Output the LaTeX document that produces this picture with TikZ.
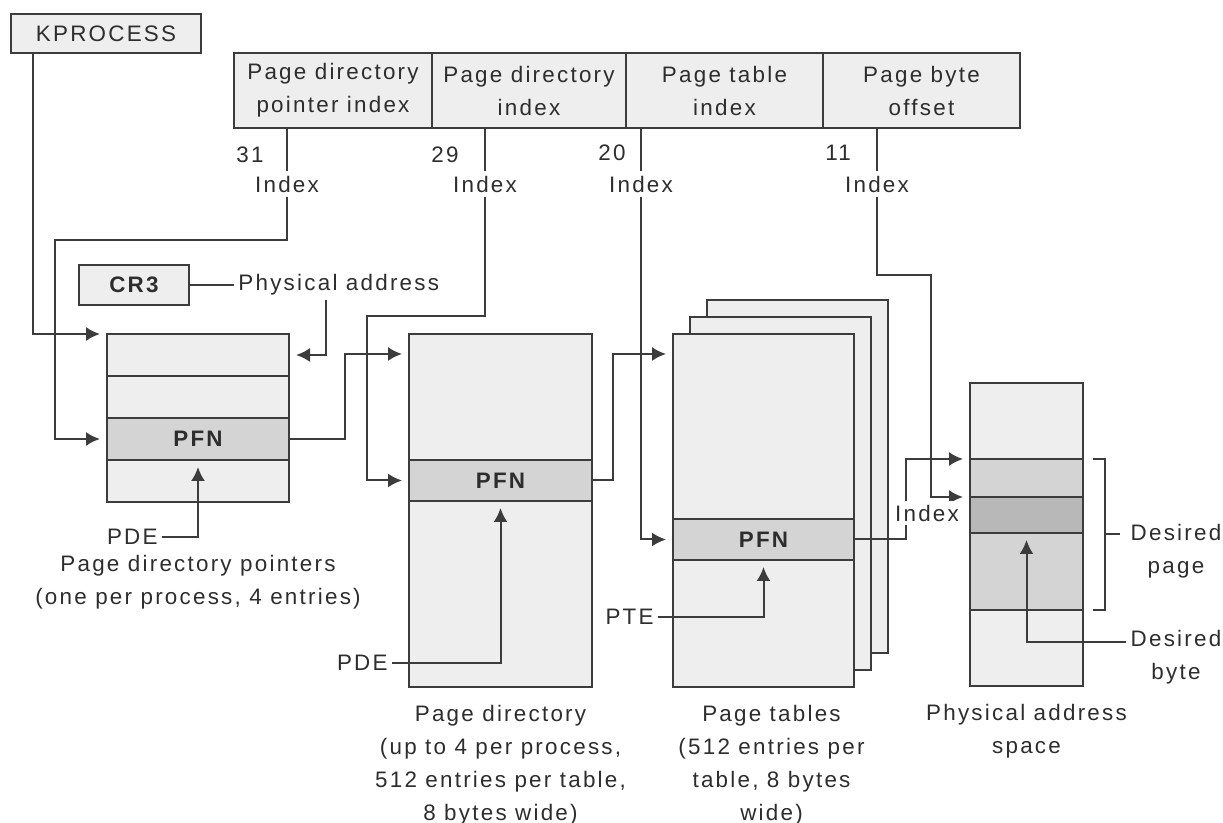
\documentclass[tikz,border=0pt]{standalone}
\usepackage{fontspec}
\setmainfont{Liberation Sans}[LetterSpace=10]
\usepackage{tikz}
\usetikzlibrary{arrows.meta, positioning}
\definecolor{linegray}{RGB}{60,60,60}
\definecolor{textgray}{RGB}{45,45,45}
\definecolor{cellfill}{RGB}{238,238,238}
\definecolor{pfnfill}{RGB}{212,212,212}
\definecolor{bytefill}{RGB}{184,184,184}
\newcommand{\diagfont}{\fontsize{11.2}{16.5}\selectfont}
\tikzset{
  cell/.style={rectangle, draw=linegray, fill=cellfill, line width=1pt,
    inner sep=0pt, outer sep=0pt, text=textgray, align=center},
  pfncell/.style={cell, fill=pfnfill, font=\diagfont\bfseries},
  tag/.style={inner sep=2pt, text=textgray, align=center},
  ptr/.style={-{Latex[length=7pt, width=7pt]}, line width=1pt,
    draw=linegray, shorten >=3.5pt},
  wire/.style={line width=1pt, draw=linegray}
}

\begin{document}
\begin{tikzpicture}[x=0.5pt, y=-0.5pt, font=\diagfont, node distance=0pt]
  \useasboundingbox (0,0) rectangle (1223,823);

  % virtual address
  \node[cell, minimum width=95pt, minimum height=19.5pt] (kp) at (106,33.5) {KPROCESS};
  \node[cell, minimum width=99pt, minimum height=37.5pt] (f1) at (333,90.5) {Page directory\\pointer index};
  \node[cell, minimum width=97pt, minimum height=37.5pt, right=of f1] (f2) {Page directory\\index};
  \node[cell, minimum width=98.5pt, minimum height=37.5pt, right=of f2] (f3) {Page table\\index};
  \node[cell, minimum width=98.5pt, minimum height=37.5pt, right=of f3] (f4) {Page byte\\offset};

  \node[tag] (n31) at (250,155) {31};
  \node[tag] (n29) at (445,155) {29};
  \node[tag] (n20) at (612,153) {20};
  \node[tag] (n11) at (838,153) {11};
  \node[tag] (idx31) at (287,184) {Index};
  \node[tag] (idx29) at (485,184) {Index};
  \node[tag] (idx20) at (641,184) {Index};
  \node[tag] (idx11) at (877,184) {Index};

  % page directory pointers
  \node[cell, minimum width=55pt, minimum height=20pt, font=\diagfont\bfseries] (cr3) at (134,285) {CR3};
  \node[tag, anchor=west] (pa) at (234,285) {Physical address};
  \node[cell, minimum width=91pt, minimum height=21pt] (pdpA) at (198,355) {};
  \node[cell, minimum width=91pt, minimum height=21pt, below=of pdpA] (pdpB) {};
  \node[pfncell, minimum width=91pt, minimum height=21pt, below=of pdpB] (pdpC) {PFN};
  \node[cell, minimum width=91pt, minimum height=21pt, below=of pdpC] (pdpD) {};
  \node[tag, anchor=east] (pde1) at (162,537) {PDE};
  \node[tag] (cap1) at (198,582) {Page directory pointers\\(one per process, 4 entries)};

  % page directory
  \node[cell, minimum width=91.5pt, minimum height=63pt] (pdA) at (500.5,397) {};
  \node[pfncell, minimum width=91.5pt, minimum height=20.5pt, below=of pdA] (pdPFN) {PFN};
  \node[cell, minimum width=91.5pt, minimum height=93pt, below=of pdPFN] (pdC) {};
  \node[tag, anchor=east] (pde2) at (392,663) {PDE};
  \node[tag, below=7pt of pdC] (cap2) {Page directory\\(up to 4 per process,\\512 entries per table,\\8 bytes wide)};

  % page tables
  \node[cell, minimum width=90.5pt, minimum height=176.5pt] (ptS3) at (797.5,476.5) {};
  \node[cell, minimum width=90.5pt, minimum height=176.5pt] (ptS2) at (780.5,493.5) {};
  \node[cell, minimum width=90.5pt, minimum height=92.5pt] (ptA) at (763.5,426.5) {};
  \node[pfncell, minimum width=90.5pt, minimum height=20.5pt, below=of ptA] (ptPFN) {PFN};
  \node[cell, minimum width=90.5pt, minimum height=63.5pt, below=of ptPFN] (ptC) {};
  \node[tag, anchor=east] (pte) at (658,617) {PTE};
  \node[tag, below=7pt of ptC, xshift=4pt] (cap3) {Page tables\\(512 entries per\\table, 8 bytes\\wide)};

  % physical memory
  \node[cell, minimum width=56.5pt, minimum height=38pt] (phA) at (1026.5,421) {};
  \node[cell, fill=pfnfill, minimum width=56.5pt, minimum height=19pt, below=of phA] (phB) {};
  \node[cell, fill=bytefill, minimum width=56.5pt, minimum height=18pt, below=of phB] (phC) {};
  \node[cell, fill=pfnfill, minimum width=56.5pt, minimum height=38.5pt, below=of phC] (phD) {};
  \node[cell, minimum width=56.5pt, minimum height=38pt, below=of phD] (phE) {};
  \node[tag] (dp) at (1176,551) {Desired\\page};
  \node[tag] (db) at (1176,657) {Desired\\byte};
  \node[tag, below=7pt of phE] (cap4) {Physical address\\space};

  % connectors
  \coordinate (kpDrop) at (33,0);
  \coordinate (paDrop) at (326,0);
  \coordinate (j31) at (55,240);
  \coordinate (j29) at (367,316);
  \coordinate (j11) at (931,275);
  \coordinate (k1) at (345,354);
  \coordinate (k2) at (613,354);
  \coordinate (k3) at (906,459);
  \coordinate (brk) at (1105,534.5);

  \draw[ptr] (kp.south -| kpDrop) |- (pdpA.north west);
  \draw[wire] (cr3.east) -- (pa.west);
  \draw[ptr] (pa.south -| paDrop) |- (pdpA.east);

  \draw[wire] (idx31 |- f1.south) -- (idx31.north);
  \draw[wire] (idx29 |- f2.south) -- (idx29.north);
  \draw[wire] (idx20 |- f3.south) -- (idx20.north);
  \draw[wire] (idx11 |- f4.south) -- (idx11.north);
  \draw[ptr] (idx31.south) |- (j31) |- (pdpC.west);
  \draw[ptr] (idx29.south) |- (j29) |- (pdPFN.west);
  \draw[ptr] (idx20.south) |- (ptPFN.west);
  \draw[ptr] (idx11.south) |- (j11) |- (phC.north west);

  \draw[ptr] (pdpC.east) -| (k1) -- (k1 -| pdA.west);
  \draw[ptr] (pdPFN.east) -| (k2) -- (k2 -| ptA.west);
  \draw[ptr] (ptPFN.east) -| (k3) -- (phB.north west);
  \node[tag, fill=white] (idxPh) at (927,513) {Index};

  \draw[ptr] (pde1.east) -| (pdpC.south);
  \draw[ptr] (pde2.east) -| (pdPFN.south);
  \draw[ptr] (pte.east) -| (ptPFN.south);
  \draw[ptr] ([yshift=7.5pt]db.west) -| (phC.south);

  \draw[wire] ([xshift=5pt]phB.north east) -| ([xshift=11pt]phD.south east) -- ([xshift=5pt]phD.south east);
  \draw[wire] (brk) -- ++(7.5pt,0);
\end{tikzpicture}
\end{document}
